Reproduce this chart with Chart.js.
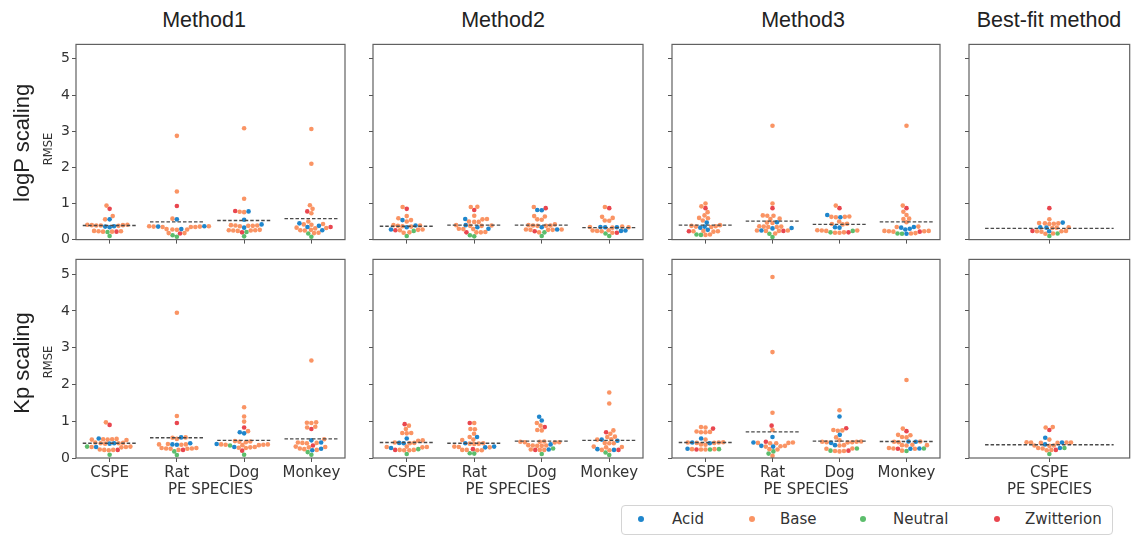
<!DOCTYPE html>
<html><head><meta charset="utf-8">
<script src="https://cdn.jsdelivr.net/npm/chart.js@4.4.1/dist/chart.umd.min.js"></script>
<style>
html,body{margin:0;padding:0;background:#fff;width:1132px;height:536px;overflow:hidden;position:relative;}
canvas{position:absolute;}
.t{position:absolute;white-space:nowrap;}
.title{font-family:"Liberation Sans",Arial,sans-serif;font-size:21.5px;color:#222;transform:translateX(-50%);line-height:24px;}
.rowlab{font-family:"Liberation Sans",Arial,sans-serif;font-size:22px;color:#222;transform:translate(-50%,-50%) rotate(-90deg);line-height:26px;}
.ylab{font-family:"DejaVu Sans",sans-serif;font-size:11.5px;color:#333;transform:translate(-50%,-50%) rotate(-90deg);line-height:14px;}
.xlab{font-family:"DejaVu Sans",sans-serif;font-size:15px;color:#333;transform:translate(-50%,-50%);line-height:18px;}
#legend{position:absolute;left:621px;top:505px;width:490px;height:28px;border:1px solid #d4d4d4;border-radius:4px;}
.dot{position:absolute;width:6px;height:6px;border-radius:50%;transform:translate(-50%,-50%);}
.ltxt{font-family:"DejaVu Sans",sans-serif;font-size:15px;color:#333;transform:translateY(-50%);line-height:18px;}
</style></head><body>
<script>
// ---------- labels ----------
const species = ['CSPE','Rat','Dog','Monkey'];
const bestSpecies = ['CSPE'];
const classNames = ['Acid','Base','Neutral','Zwitterion'];
const classColors = ['#1f86cc','#fa9464','#5cbd6c','#e9464f'];
const yTicks = [0,1,2,3,4,5];
const columnTitles = ['Method1','Method2','Method3','Best-fit method'];
const rowTitles = ['logP scaling','Kp scaling'];
const yAxisTitle = 'RMSE';
const xAxisTitle = 'PE SPECIES';

// ---------- logP scaling ----------
const m1LogP_acid = [[0.56,0.37,0.36,0.34],[0.56,0.37,0.36,0.29],[0.78,0.55,0.42,0.33],[0.45,0.38,0.35,0.26]];
const m1LogP_base = [[0.94,0.65,0.56,0.41,0.41,0.40,0.40,0.39,0.39,0.38,0.24,0.23,0.23,0.22,0.22],
 [2.87,1.33,0.58,0.37,0.37,0.36,0.36,0.35,0.35,0.35,0.29,0.28,0.28,0.27,0.18,0.18],
 [3.08,1.13,0.77,0.76,0.40,0.39,0.39,0.38,0.38,0.37,0.27,0.26,0.26,0.25,0.25,0.24],
 [3.06,2.10,0.95,0.85,0.73,0.50,0.43,0.42,0.41,0.33,0.32,0.31,0.27,0.26,0.25,0.19,0.18]];
const m1LogP_neutral = [[0.21,0.10],[0.12,0.08],[0.21,0.09],[0.17,0.08]];
const m1LogP_zwit = [[0.85,0.22],[0.93,0.17],[0.79,0.20],[0.78,0.35]];
const m1LogP_mean = [0.39,0.49,0.53,0.58];

const m2LogP_acid = [[0.54,0.39,0.34,0.28],[0.57,0.40,0.34,0.30],[0.82,0.81,0.34,0.28],[0.35,0.34,0.34,0.25,0.24]];
const m2LogP_base = [[0.90,0.65,0.59,0.54,0.50,0.40,0.39,0.38,0.37,0.36,0.28,0.27,0.26,0.20,0.19],
 [0.91,0.90,0.66,0.57,0.56,0.50,0.49,0.49,0.40,0.39,0.38,0.38,0.30,0.29,0.29,0.21,0.20,0.20],
 [0.90,0.65,0.64,0.56,0.55,0.42,0.40,0.39,0.39,0.38,0.38,0.28,0.28,0.27,0.27,0.27,0.20],
 [0.90,0.63,0.60,0.53,0.52,0.36,0.35,0.34,0.33,0.26,0.25,0.24,0.23,0.19]];
const m2LogP_neutral = [[0.24,0.10],[0.12,0.09],[0.20,0.10],[0.17,0.10]];
const m2LogP_zwit = [[0.85,0.26],[0.82,0.20],[0.87,0.23],[0.87,0.19]];
const m2LogP_mean = [0.37,0.40,0.40,0.33];

const m3LogP_acid = [[0.47,0.36,0.33,0.27],[0.48,0.32,0.31,0.25],[0.68,0.62,0.34,0.33],[0.35,0.33,0.30,0.28,0.16]];
const m3LogP_base = [[1.00,0.92,0.76,0.67,0.60,0.59,0.53,0.40,0.38,0.37,0.36,0.35,0.24,0.23,0.23,0.22,0.14,0.13],
 [3.15,1.00,0.67,0.66,0.66,0.58,0.57,0.47,0.46,0.37,0.36,0.36,0.35,0.35,0.25,0.25,0.24,0.24,0.17],
 [0.94,0.64,0.63,0.63,0.62,0.50,0.44,0.43,0.42,0.26,0.25,0.25,0.24,0.20,0.19,0.19],
 [3.15,0.94,0.77,0.68,0.58,0.57,0.48,0.36,0.35,0.24,0.24,0.23,0.23,0.22,0.18,0.17]];
const m3LogP_neutral = [[0.14,0.13],[0.16,0.07],[0.24,0.20],[0.17,0.16]];
const m3LogP_zwit = [[0.87,0.23],[0.87,0.24],[0.87,0.20],[0.87,0.22]];
const m3LogP_mean = [0.40,0.51,0.42,0.49];

const bestLogP_acid = [[0.47,0.34,0.33,0.23]];
const bestLogP_base = [[0.56,0.46,0.45,0.45,0.44,0.43,0.34,0.33,0.32,0.24,0.23,0.23,0.22,0.17,0.16]];
const bestLogP_neutral = [[0.17,0.10]];
const bestLogP_zwit = [[0.87,0.24]];
const bestLogP_mean = [0.31];

// ---------- Kp scaling ----------
const m1Kp_acid = [[0.53,0.40,0.39,0.30],[0.56,0.40,0.37,0.36],[0.70,0.67,0.38,0.30],[0.48,0.42,0.25,0.21]];
const m1Kp_base = [[0.97,0.52,0.51,0.51,0.50,0.50,0.49,0.42,0.41,0.40,0.40,0.39,0.31,0.30,0.30,0.29,0.23,0.22,0.22,0.21],
 [3.95,1.14,0.56,0.55,0.52,0.38,0.37,0.37,0.36,0.27,0.27,0.26,0.26,0.25,0.25,0.22],
 [1.38,1.13,0.99,0.73,0.46,0.45,0.44,0.43,0.37,0.37,0.36,0.36,0.35,0.35,0.30,0.29,0.28,0.27],
 [2.65,0.97,0.96,0.95,0.85,0.83,0.51,0.42,0.41,0.41,0.40,0.31,0.30,0.29,0.26,0.24,0.22]];
const m1Kp_neutral = [[0.31,0.09],[0.18,0.08],[0.34,0.09],[0.16,0.09]];
const m1Kp_zwit = [[0.90,0.22],[0.95,0.22],[0.83,0.20],[0.79,0.34]];
const m1Kp_mean = [0.40,0.55,0.48,0.52];

const m2Kp_acid = [[0.53,0.41,0.40,0.27],[0.57,0.40,0.31,0.29],[1.12,1.02,0.37,0.23],[0.50,0.47,0.24,0.22]];
const m2Kp_base = [[0.88,0.79,0.68,0.68,0.67,0.48,0.47,0.42,0.41,0.40,0.31,0.30,0.30,0.29,0.22,0.22,0.21,0.21],
 [0.95,0.79,0.78,0.66,0.57,0.50,0.49,0.40,0.39,0.39,0.38,0.31,0.30,0.29,0.22,0.22,0.21,0.21],
 [0.95,0.88,0.76,0.75,0.45,0.44,0.44,0.43,0.43,0.42,0.35,0.34,0.34,0.33,0.33,0.23,0.22,0.22],
 [1.78,1.48,0.75,0.66,0.58,0.57,0.51,0.50,0.41,0.40,0.40,0.31,0.30,0.29,0.22,0.21]];
const m2Kp_neutral = [[0.24,0.11],[0.13,0.12],[0.26,0.11],[0.15,0.08]];
const m2Kp_zwit = [[0.92,0.22],[0.95,0.24],[0.84,0.22],[0.70,0.22]];
const m2Kp_mean = [0.42,0.40,0.46,0.48];

const m3Kp_acid = [[0.53,0.42,0.40,0.25],[0.57,0.42,0.33,0.31],[1.13,0.63,0.41,0.35],[0.45,0.44,0.26,0.25]];
const m3Kp_base = [[0.84,0.83,0.72,0.71,0.70,0.70,0.50,0.43,0.42,0.42,0.41,0.41,0.37,0.36,0.24,0.24,0.23,0.23],
 [4.92,2.88,1.23,0.76,0.42,0.41,0.41,0.40,0.40,0.33,0.32,0.31,0.24,0.23,0.06],
 [1.30,0.76,0.75,0.74,0.56,0.48,0.45,0.44,0.44,0.43,0.43,0.42,0.35,0.34,0.26,0.25,0.19,0.19,0.18],
 [2.12,0.80,0.63,0.62,0.57,0.56,0.45,0.44,0.43,0.36,0.35,0.35,0.34,0.27,0.26,0.25,0.20]];
const m3Kp_neutral = [[0.24,0.23],[0.18,0.12],[0.26,0.20],[0.26,0.19]];
const m3Kp_zwit = [[0.80,0.23],[0.88,0.44],[0.81,0.20],[0.73,0.25]];
const m3Kp_mean = [0.42,0.71,0.46,0.45];

const bestKp_acid = [[0.55,0.42,0.37,0.27]];
const bestKp_base = [[0.84,0.83,0.50,0.43,0.42,0.42,0.42,0.41,0.41,0.34,0.34,0.33,0.27,0.26,0.22,0.21]];
const bestKp_neutral = [[0.27,0.11]];
const bestKp_zwit = [[0.76,0.22]];
const bestKp_mean = [0.36];

// ---------- layout (pixels) ----------
const colBox = [[76,345],[373,643],[672,940],[969,1130]];
const rowBox = [[40,242],[255,458]];
const titleX = [204,503,803,1049];
const rowLabelPos = [[22,143],[22,363]];
const yLabelPos = [[48,149],[48,362]];
const xLabelY = 489;
const legendDotX = [641,752,863,997];
const legendTextX = [672,780,893,1025];
const legendY = 519;

const panels = [
 {row:0,col:0,cats:species,groups:[m1LogP_acid,m1LogP_base,m1LogP_neutral,m1LogP_zwit],mean:m1LogP_mean},
 {row:0,col:1,cats:species,groups:[m2LogP_acid,m2LogP_base,m2LogP_neutral,m2LogP_zwit],mean:m2LogP_mean},
 {row:0,col:2,cats:species,groups:[m3LogP_acid,m3LogP_base,m3LogP_neutral,m3LogP_zwit],mean:m3LogP_mean},
 {row:0,col:3,cats:bestSpecies,groups:[bestLogP_acid,bestLogP_base,bestLogP_neutral,bestLogP_zwit],mean:bestLogP_mean},
 {row:1,col:0,cats:species,groups:[m1Kp_acid,m1Kp_base,m1Kp_neutral,m1Kp_zwit],mean:m1Kp_mean},
 {row:1,col:1,cats:species,groups:[m2Kp_acid,m2Kp_base,m2Kp_neutral,m2Kp_zwit],mean:m2Kp_mean},
 {row:1,col:2,cats:species,groups:[m3Kp_acid,m3Kp_base,m3Kp_neutral,m3Kp_zwit],mean:m3Kp_mean},
 {row:1,col:3,cats:bestSpecies,groups:[bestKp_acid,bestKp_base,bestKp_neutral,bestKp_zwit],mean:bestKp_mean}
];

const POINT_R = 2.3;
const SWARM_D = 4.5;

function swarmOffsets(pys, d){
  const idx = pys.map((y,i)=>i).sort((a,b)=>pys[b]-pys[a]);
  const placed = []; const out = new Array(pys.length);
  for (const i of idx){
    const y = pys[i];
    const near = placed.filter(q=>Math.abs(q.y-y) < d);
    const cands = [0];
    near.forEach(q=>{const dy=y-q.y; const dx=Math.sqrt(Math.max(d*d-dy*dy,0)); cands.push(q.x+dx, q.x-dx);});
    cands.sort((a,b)=>Math.abs(a)-Math.abs(b) || a-b);
    let chosen = cands[cands.length-1];
    for (const c of cands){
      if (near.every(q=>(q.x-c)*(q.x-c)+(q.y-y)*(q.y-y) >= d*d-1e-6)){chosen=c;break;}
    }
    placed.push({x:chosen,y}); out[i]=chosen;
  }
  return out;
}

const framePlugin = {
  id:'frame',
  afterDraw(chart){
    const a = chart.chartArea, ctx = chart.ctx;
    ctx.save(); ctx.strokeStyle='#616161'; ctx.lineWidth=1.2;
    ctx.strokeRect(a.left, a.top, a.right-a.left, a.bottom-a.top);
    ctx.restore();
  }
};

function makePanel(p){
  const [L,R] = colBox[p.col], [T,B] = rowBox[p.row];
  const yW = p.col===0 ? 45 : 8;
  const xH = p.row===1 ? 30 : 8;
  const pT = 6, pR = p.col===3 ? 2 : 6;
  const W = (R-L)+yW+pR, H = (B-T)+pT+xH;
  const cv = document.createElement('canvas');
  cv.style.left=(L-yW)+'px'; cv.style.top=(T-pT)+'px';
  cv.style.width=W+'px'; cv.style.height=H+'px';
  cv.width=W; cv.height=H;
  document.body.appendChild(cv);
  const n = p.cats.length;
  const datasets = [];
  p.mean.forEach((m,i)=>datasets.push({type:'line',data:[{x:i-0.4,y:m},{x:i+0.4,y:m}],borderColor:'#4a4a4a',borderWidth:1.4,borderDash:[3.5,2],pointRadius:0,fill:false,order:0}));
  p.groups.forEach((g,k)=>{
    const pts=[];
    g.forEach((vals,i)=>vals.forEach(v=>pts.push({x:i,y:v,cat:i})));
    datasets.push({type:'scatter',data:pts,backgroundColor:classColors[k],borderColor:classColors[k],borderWidth:0,pointRadius:POINT_R,pointHoverRadius:POINT_R,order:1});
  });
  const tickGrid = {display:true,drawOnChartArea:false,drawTicks:true,tickLength:4,tickColor:'#555',tickWidth:1};
  const chart = new Chart(cv,{
    type:'scatter',
    data:{datasets},
    options:{
      responsive:false,animation:false,devicePixelRatio:1,events:[],
      layout:{padding:{top:pT,right:pR,left:0,bottom:0}},
      plugins:{legend:{display:false},tooltip:{enabled:false}},
      scales:{
        x:{type:'linear',min:-0.5,max:n-0.5,
           afterBuildTicks:s=>{s.ticks=p.cats.map((c,i)=>({value:i}));},
           afterFit:s=>{s.height=xH;},
           ticks:{callback:v=>p.row===1?p.cats[v]:'',font:{family:'DejaVu Sans',size:15},color:'#333',padding:2,maxRotation:0,autoSkip:false},
           grid:tickGrid,border:{display:false}},
        y:{type:'linear',min:0,max:5.4,
           afterBuildTicks:s=>{s.ticks=yTicks.map(v=>({value:v}));},
           afterFit:s=>{s.width=yW;},
           ticks:{callback:v=>p.col===0?String(v):'',font:{family:'DejaVu Sans',size:14},color:'#333',padding:2},
           grid:tickGrid,border:{display:false}}
      }
    },
    plugins:[framePlugin]
  });
  const xs = chart.scales.x, ys = chart.scales.y;
  for (let i=0;i<n;i++){
    const refs=[];
    chart.data.datasets.forEach(ds=>{ if(ds.type==='scatter') ds.data.forEach(pt=>{ if(pt.cat===i) refs.push(pt); }); });
    const pys = refs.map(pt=>ys.getPixelForValue(pt.y));
    const offs = swarmOffsets(pys, SWARM_D);
    const cx = xs.getPixelForValue(i);
    refs.forEach((pt,j)=>{ pt.x = xs.getValueForPixel(cx+offs[j]); });
  }
  chart.update('none');
}

panels.forEach(makePanel);

function addText(cls, txt, x, y){
  const d=document.createElement('div'); d.className='t '+cls; d.textContent=txt;
  d.style.left=x+'px'; d.style.top=y+'px'; document.body.appendChild(d); return d;
}
columnTitles.forEach((t,i)=>addText('title',t,titleX[i],8));
rowTitles.forEach((t,i)=>addText('rowlab',t,rowLabelPos[i][0],rowLabelPos[i][1]));
rowTitles.forEach((t,i)=>addText('ylab',yAxisTitle,yLabelPos[i][0],yLabelPos[i][1]));
colBox.forEach(c=>addText('xlab',xAxisTitle,(c[0]+c[1])/2,xLabelY));

const lg=document.createElement('div'); lg.id='legend'; document.body.appendChild(lg);
classNames.forEach((nm,i)=>{
  const d=document.createElement('div'); d.className='dot'; d.style.left=legendDotX[i]+'px'; d.style.top=legendY+'px'; d.style.background=classColors[i]; document.body.appendChild(d);
  addText('ltxt',nm,legendTextX[i],legendY);
});
</script>
</body></html>
